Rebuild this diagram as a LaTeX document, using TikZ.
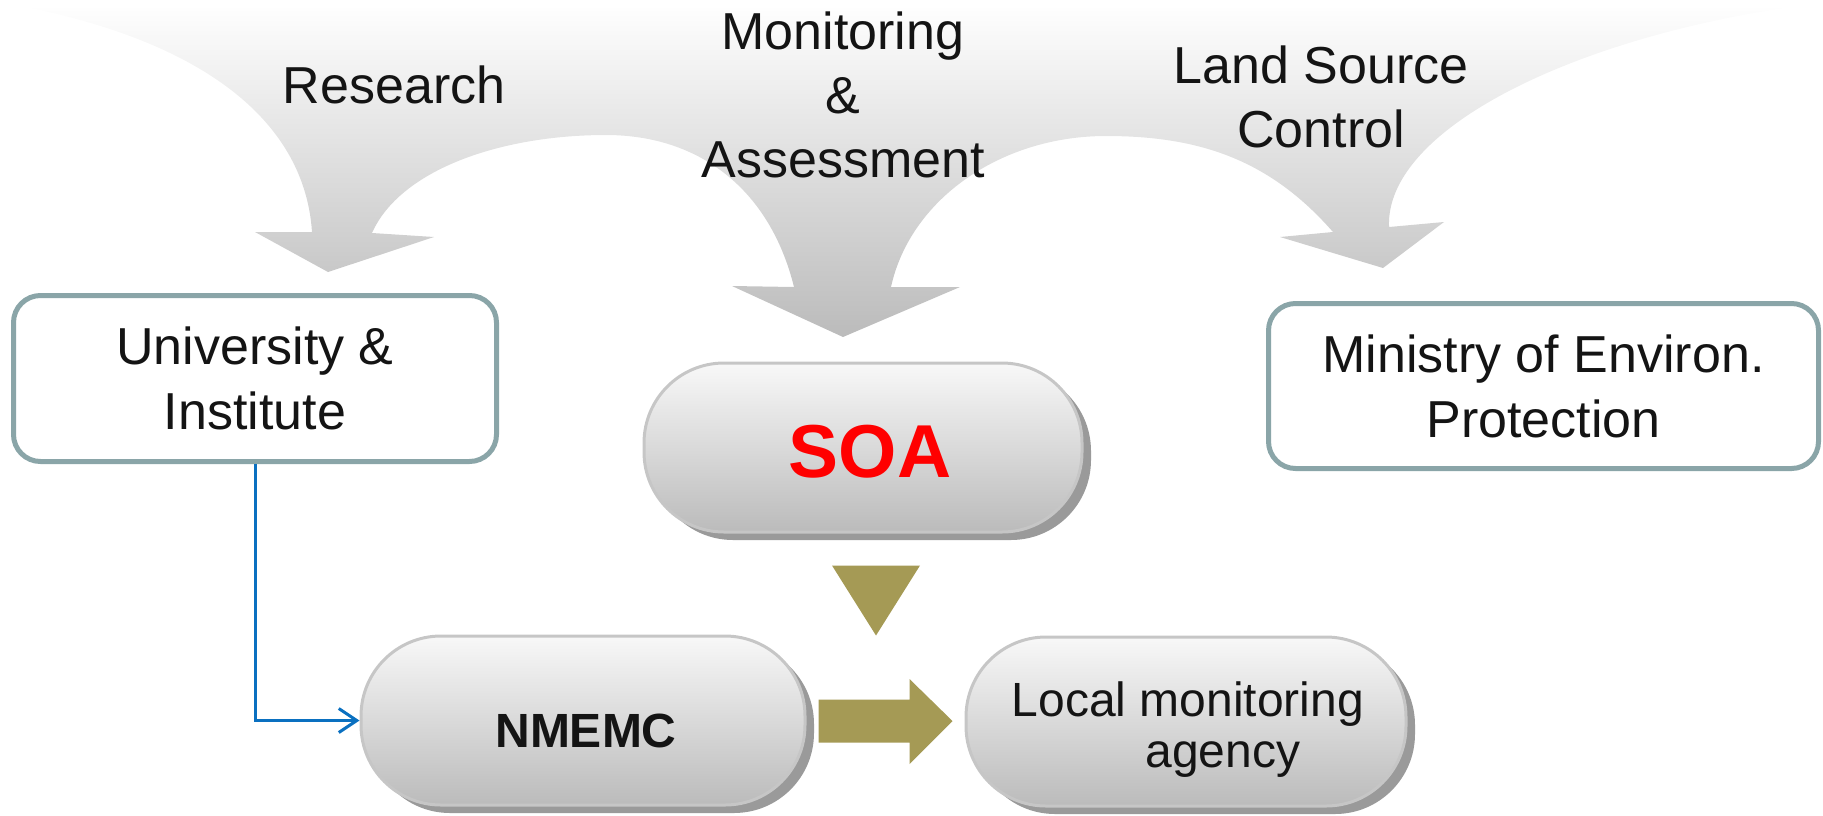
\documentclass[tikz,border=0pt]{standalone}
\usepackage{fontspec}
\setmainfont{Liberation Sans}
\usetikzlibrary{calc,arrows.meta,shadows}

\definecolor{boxline}{HTML}{8AA5A8}
\definecolor{olivefill}{HTML}{A59A55}
\definecolor{linkblue}{HTML}{0A70C0}
\definecolor{pillline}{HTML}{C6C6C6}
\definecolor{pillshadow}{HTML}{9A9A9A}
\definecolor{pilltop}{HTML}{F8F8F8}
\definecolor{pillbottom}{HTML}{BBBBBB}
\definecolor{bandtop}{HTML}{FEFEFE}
\definecolor{bandmid}{HTML}{E6E6E6}
\definecolor{bandbottom}{HTML}{BBBBBB}
\definecolor{ink}{HTML}{141414}
\definecolor{soared}{HTML}{FF0000}

\tikzset{
  flowtext/.style={font=\fontsize{52}{64}\selectfont, text=ink, align=center, inner sep=0pt},
  orgbox/.style={draw=boxline, line width=5pt, rounded corners=27pt, fill=white,
    inner sep=0pt, font=\fontsize{52}{65}\selectfont, text=ink, align=center},
  pill/.style={draw=pillline, line width=3pt, rounded corners=80pt,
    top color=pilltop, bottom color=pillbottom, inner sep=0pt, minimum height=169pt,
    drop shadow={shadow xshift=9pt, shadow yshift=-8pt, fill=pillshadow, opacity=1}},
  blockarrow/.style={fill=olivefill, draw=none},
  link/.style={draw=linkblue, line width=3pt, -{Straight Barb[length=18pt,width=24pt]}}
}

\begin{document}
\begin{tikzpicture}[x=1pt, y=-1pt]
\useasboundingbox (0,0) rectangle (1823,815);

% broad shaded band splitting into three curved arrows
\shade[top color=bandtop, middle color=bandmid, bottom color=bandbottom]
  (30,8) -- (1785,8)
  .. controls (1570,40) and (1385,130) .. (1389,227)
  -- (1444,222) -- (1383,268) -- (1280,237) -- (1333,232)
  .. controls (1270,160) and (1200,136) .. (1106,136)
  .. controls (1000,136) and (910,200) .. (891,287)
  -- (960,287) -- (843,337) -- (732,286) -- (794,287)
  .. controls (770,190) and (700,135) .. (606,135)
  .. controls (500,135) and (400,170) .. (372,233)
  -- (434,237) -- (328,272) -- (255,232) -- (312,232)
  .. controls (305,125) and (210,45) .. (30,8) -- cycle;

% arrow labels
\node[flowtext, anchor=base] (research) at (394,103) {Research};
\node[flowtext] (monitoring) at (843,95) {Monitoring\\\&\\Assessment};
\node[flowtext] (landsource) at (1321,97) {Land Source\\Control};

% organisations
\node[orgbox, minimum width=483pt, minimum height=166pt] (uni) at (255,378.5)
  {University \&\\Institute};
\node[orgbox, minimum width=550pt, minimum height=165pt] (mep) at (1543.5,386)
  {Ministry of Environ.\\Protection};

\node[pill, minimum width=438pt] (soa) at (863,447.5) {};
\node[pill, minimum width=444pt] (nmemc) at (583,720.5) {};
\node[pill, minimum width=440pt] (local) at (1186,721.5) {};

\node[anchor=base, inner sep=0pt, text=soared, font=\bfseries\fontsize{75}{75}\selectfont]
  (soatext) at ($(soa.center)+(7,29.5)$) {SOA};
\node[anchor=base, inner sep=0pt, text=ink, font=\bfseries\fontsize{48}{48}\selectfont]
  (nmemctext) at ($(nmemc.center)+(3,26.5)$) {NMEMC};
\node[inner sep=0pt, text=ink, align=center, font=\fontsize{48}{51}\selectfont]
  (localtext) at ($(local.center)+(2,8.5)$) {Local monitoring\\\hspace*{70pt}agency};

% olive block arrows
\begin{scope}[shift={($(soa.south)+(13,32)$)}]
  \fill[blockarrow] (-44,0) -- (44,0) -- (0,70) -- cycle;
\end{scope}
\begin{scope}[shift={($(nmemc.east)!0.5!(local.west)$)}]
  \fill[blockarrow] (-67,-21.5) -- (24,-21.5) -- (24,-42) -- (67,0)
    -- (24,43) -- (24,21.5) -- (-67,21.5) -- cycle;
\end{scope}

% blue link
\draw[link] (uni.south) |- (nmemc.west);
\end{tikzpicture}
\end{document}
